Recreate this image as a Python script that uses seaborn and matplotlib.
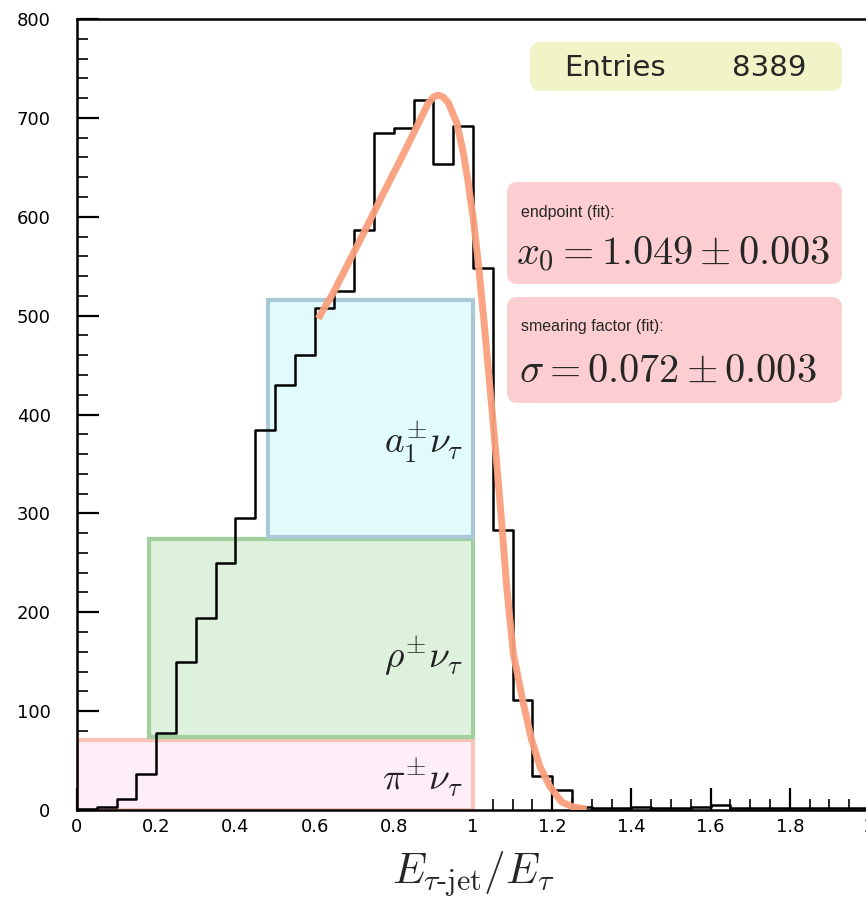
import numpy as np
import pandas as pd
import matplotlib
matplotlib.use("Agg")
import matplotlib.pyplot as plt
from matplotlib.patches import Rectangle, FancyBboxPatch
import seaborn as sns

# ---------------- data ----------------
bin_edges = [round(0.05 * i, 2) for i in range(41)]
counts = [1, 3, 11, 36, 78, 150, 194, 250, 295, 384,
          430, 460, 508, 525, 587, 685, 690, 718, 653, 692,
          548, 283, 111, 34, 20, 3, 2, 2, 3, 2,
          2, 3, 5, 2, 2, 2, 2, 2, 2, 2]

fit_x = [0.609, 0.647, 0.689, 0.732, 0.774, 0.816, 0.858, 0.887, 0.900, 0.912, 0.925, 0.938,
         0.959, 0.976, 0.988, 1.001, 1.013, 1.029, 1.045, 1.060, 1.072, 1.085,
         1.102, 1.127, 1.148, 1.169, 1.194, 1.224, 1.253, 1.287]
fit_y = [497, 523, 556, 590, 624, 657, 691, 715, 721, 723, 721, 715,
         695, 664, 634, 597, 555, 489, 418, 350, 293, 226,
         158, 108, 71, 44, 24, 8, 3, 1]

channel_labels = [r"$\pi^{\pm}\nu_{\tau}$", r"$\rho^{\pm}\nu_{\tau}$", r"$a_1^{\pm}\nu_{\tau}$"]
channel_x0 = [0.0, 0.183, 0.483]
channel_x1 = [1.0, 1.0, 1.0]
channel_y0 = [0, 74, 276]
channel_y1 = [71, 274, 516]
channel_label_y = [33, 155, 372]

entries = 8389
endpoint_text = r"$x_0 = 1.049 \pm 0.003$"
sigma_text = r"$\sigma = 0.072 \pm 0.003$"

# ---------------- style ----------------
sns.set_theme(style="white")
plt.rcParams['font.family'] = ['DejaVu Sans']
plt.rcParams['mathtext.fontset'] = 'cm'

W, H = 866, 898
fig = plt.figure(figsize=(W / 100, H / 100), dpi=100)
ax = fig.add_axes([77 / W, 1 - 810 / H, (869 - 77) / W, (810 - 19) / H])

face = ['#fdeef8', '#ddf1dc', '#e1fbfd']
edge = ['#f9c3b6', '#a2cf9e', '#a9c9d6']
for i in range(3):
    ax.add_patch(Rectangle((channel_x0[i], channel_y0[i]),
                           channel_x1[i] - channel_x0[i], channel_y1[i] - channel_y0[i],
                           facecolor=face[i], edgecolor=edge[i], linewidth=3, zorder=1))
    ax.text(0.975, channel_label_y[i], channel_labels[i], ha='right', va='center',
            fontsize=27, color='#222222', zorder=2)

centers = [(bin_edges[i] + bin_edges[i + 1]) / 2 for i in range(len(counts))]
df = pd.DataFrame({"x": centers, "w": counts})
sns.histplot(data=df, x="x", weights="w", bins=bin_edges, element="step", fill=False,
             color="black", linewidth=1.8, ax=ax, zorder=3)

fdf = pd.DataFrame({"x": fit_x, "y": fit_y})
sns.lineplot(data=fdf, x="x", y="y", color="#fb9f7c", linewidth=5, ax=ax, zorder=4,
             solid_capstyle='butt', solid_joinstyle='round', alpha=0.95)

ax.set_xlim(0, 2)
ax.set_ylim(0, 800)
ax.set_xlabel(r"$E_{\tau\text{-}\mathrm{jet}}/E_{\tau}$", fontsize=31, labelpad=9)
ax.set_ylabel("")
ax.set_xticks(np.arange(0, 2.01, 0.2))
ax.set_xticklabels(["0", "0.2", "0.4", "0.6", "0.8", "1", "1.2", "1.4", "1.6", "1.8", "2"])
ax.set_xticks(np.arange(0, 2.01, 0.05), minor=True)
ax.set_yticks(np.arange(0, 801, 100))
ax.set_yticks(np.arange(0, 801, 20), minor=True)
ax.tick_params(axis='both', which='major', direction='in', length=16, width=1.6,
               labelsize=13, colors='black', top=False, right=False, left=True, bottom=True)
ax.tick_params(axis='both', which='minor', direction='in', length=8, width=1.4,
               top=False, right=False, left=True, bottom=True)
ax.tick_params(axis='x', pad=6)
ax.tick_params(axis='y', pad=19)
for s in ax.spines.values():
    s.set_color('black')
    s.set_linewidth(1.8)
ax.grid(False)


def fx(px):
    return px / W


def fy(py):
    return 1 - py / H


def rbox(x0, y0, x1, y1, color):
    p = FancyBboxPatch((fx(x0), fy(y1)), fx(x1) - fx(x0), fy(y0) - fy(y1),
                       boxstyle="round,pad=0,rounding_size=0.012",
                       transform=fig.transFigure, facecolor=color, edgecolor='none',
                       zorder=10)
    fig.patches.append(p)


rbox(530, 42, 842, 91, '#f1f4c6')
rbox(507, 182, 842, 284, '#fccdd1')
rbox(507, 297, 842, 403, '#fccdd1')

fig.text(fx(564), fy(68), "Entries", fontsize=21, va='center', ha='left', zorder=11)
fig.text(fx(806), fy(68), f"{entries}", fontsize=21, va='center', ha='right', zorder=11)
fig.text(fx(521), fy(213), "endpoint (fit):", fontsize=11.5, family='Liberation Sans',
         va='center', ha='left', zorder=11)
fig.text(fx(516), fy(254), endpoint_text, fontsize=29, va='center', ha='left', zorder=11)
fig.text(fx(521), fy(327), "smearing factor (fit):", fontsize=11.5, family='Liberation Sans',
         va='center', ha='left', zorder=11)
fig.text(fx(519), fy(371), sigma_text, fontsize=29, va='center', ha='left', zorder=11)

fig.savefig("out.png", dpi=100, facecolor='white')
